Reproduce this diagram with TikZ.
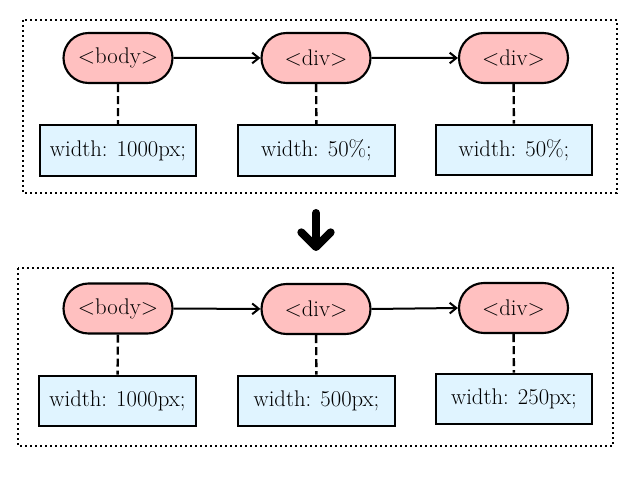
\documentclass[tikz,border=0pt]{standalone}
\usetikzlibrary{shapes.misc,arrows.meta}
\definecolor{tagpink}{RGB}{255,192,192}
\definecolor{boxblue}{RGB}{224,244,255}
\begin{document}
\begin{tikzpicture}[x=0.75pt,y=-0.75pt,
  tag/.style={rounded rectangle,draw=black,line width=1.6pt,fill=tagpink,
    minimum width=81.75pt,minimum height=37.5pt,inner sep=0pt,
    font=\fontsize{17}{20}\selectfont},
  valbox/.style={rectangle,draw=black,line width=1.6pt,fill=boxblue,
    minimum width=117.5pt,minimum height=38pt,inner sep=0pt,
    font=\fontsize{17}{20}\selectfont},
  frame/.style={draw=black,line width=1.5pt,dash pattern=on 1.5pt off 2.25pt},
  flow/.style={draw=black,line width=1.5pt,-{Straight Barb[length=5pt,width=8pt]}},
  link/.style={draw=black,line width=1.8pt,dash pattern=on 6pt off 3pt},
  bigarrow/.style={draw=black,line width=6pt,line cap=round,
    -{Straight Barb[round,length=11pt,width=22pt,line width=6pt]}}]
\useasboundingbox (0,0) rectangle (642,477);
% frames
\draw[frame] (23,20) rectangle (617,193);
\draw[frame] (18,268) rectangle (613,446);
% top row
\node[tag] (b1) at (118,58) {<body>};
\node[tag] (d1) at (316,58) {<div>};
\node[tag] (e1) at (513.5,58) {<div>};
\node[valbox] (bb1) at (118,150.5) {width: 1000px;};
\node[valbox] (db1) at (316.5,150.5) {width: 50\%;};
\node[valbox] (eb1) at (514,150) {width: 50\%;};
\draw[flow] (b1) -- (d1);
\draw[flow] (d1) -- (e1);
\draw[link] (b1) -- (bb1);
\draw[link] (d1) -- (db1);
\draw[link] (e1) -- (eb1);
% big arrow
\coordinate (a1) at (316,213);
\coordinate (a2) at (316,251);
\draw[bigarrow] (a1) -- (a2);
% bottom row
\node[tag] (b2) at (118,308.5) {<body>};
\node[tag] (d2) at (316,309) {<div>};
\node[tag] (e2) at (513.5,308) {<div>};
\node[valbox] (bb2) at (117.5,401) {width: 1000px;};
\node[valbox] (db2) at (316.5,401) {width: 500px;};
\node[valbox] (eb2) at (514,399) {width: 250px;};
\draw[flow] (d2.east) -- (e2.west);
\draw[flow] (b2) -- (d2);
\draw[link] (b2) -- (bb2);
\draw[link] (d2) -- (db2);
\draw[link] (e2) -- (eb2);
\end{tikzpicture}
\end{document}
